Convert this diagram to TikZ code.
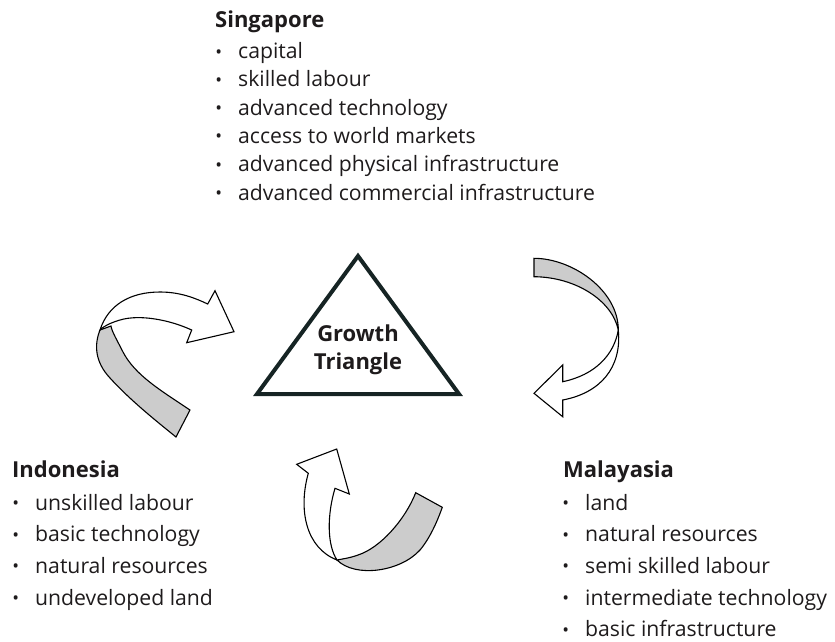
\documentclass[tikz,border=0pt]{standalone}
\usepackage{fontspec}
\setmainfont{Open Sans}
\definecolor{ink}{RGB}{30,27,28}
\definecolor{band}{RGB}{204,204,204}
\definecolor{edge}{RGB}{22,36,36}
% bullet hung to the left of an item
\newcommand{\bul}{\llap{{\fontsize{18}{18}\selectfont\raisebox{0.5pt}{\textbullet}}\hspace{16pt}}}

\begin{document}
\begin{tikzpicture}[x=1pt, y=-1pt,
	head/.style={font=\fontsize{22}{28}\selectfont\bfseries, text=ink, anchor=base west, inner sep=0pt},
	item/.style={font=\fontsize{21.2}{28}\selectfont, text=ink, anchor=base west, inner sep=0pt},
	ribbon/.style={draw=black, line width=1.1pt, line join=miter, fill=white},
	twist/.style={ribbon, fill=band}]
	%%%%% START %%%%%
	\useasboundingbox (0, 0) rectangle (835, 641);
	
	% Singapore
	\node[head] (sg0) at (215, 27.5) {Singapore};
	\node[item] (sg1) at (238, 58.5) {\bul capital};
	\node[item] (sg2) at (238, 86.8) {\bul skilled labour};
	\node[item] (sg3) at (238, 115.1) {\bul advanced technology};
	\node[item] (sg4) at (238, 143.4) {\bul access to world markets};
	\node[item] (sg5) at (238, 171.7) {\bul advanced physical infrastructure};
	\node[item] (sg6) at (238, 200) {\bul advanced commercial infrastructure};
	
	% Indonesia
	\node[head] (id0) at (12, 477) {Indonesia};
	\node[item] (id1) at (35, 510) {\bul unskilled labour};
	\node[item] (id2) at (35, 541.7) {\bul basic technology};
	\node[item] (id3) at (35, 573.3) {\bul natural resources};
	\node[item] (id4) at (35, 605) {\bul undeveloped land};
	
	% Malayasia
	\node[head] (my0) at (563, 477) {Malayasia};
	\node[item] (my1) at (585, 510) {\bul land};
	\node[item] (my2) at (585, 541.7) {\bul natural resources};
	\node[item] (my3) at (585, 573.3) {\bul semi skilled labour};
	\node[item] (my4) at (585, 605) {\bul intermediate technology};
	\node[item] (my5) at (585, 636.7) {\bul basic infrastructure};
	
	% triangle in the middle
	\draw[edge, line width=4pt, line join=miter] (358, 256) -- (459, 394) -- (257, 394) -- cycle;
	\node[head, anchor=center, align=center] (growth) at (358, 350) {Growth\\Triangle};
	
	% left ribbon, Indonesia up to Singapore
	\draw[twist] (100, 330) .. controls (94, 345) and (95, 362) .. (110, 378)
		.. controls (130, 400) and (155, 420) .. (176, 437) -- (190, 410)
		.. controls (160, 390) and (135, 375) .. (123, 352)
		.. controls (117, 340) and (112, 332) .. (111, 326) -- cycle;
	\draw[ribbon] (100, 330) .. controls (108, 305) and (130, 292) .. (160, 292)
		.. controls (180, 292) and (195, 298) .. (207.7, 304) -- (215, 290.7) -- (234, 331.7)
		-- (186.7, 342.7) -- (191.7, 330)
		.. controls (170, 320) and (140, 314) .. (120, 320)
		.. controls (110, 323) and (104, 326) .. (100, 330) -- cycle;
	
	% right ribbon, Singapore down to Malayasia
	\draw[twist] (534, 258.3) .. controls (572, 258.3) and (618.3, 290) .. (618.3, 330)
		.. controls (612, 300) and (575, 277) .. (534, 276.7) -- cycle;
	\draw[ribbon] (618.3, 330) .. controls (622, 368) and (600, 393) .. (562.7, 400)
		-- (562.7, 416.7) -- (534, 393.3) -- (562.7, 365) -- (562.7, 381.7)
		.. controls (595, 375) and (614, 355) .. (618.3, 330) -- cycle;
	
	% bottom ribbon, Malayasia across to Indonesia
	\draw[twist] (337, 560) .. controls (355, 578) and (400, 572) .. (420, 550)
		.. controls (430, 538) and (437, 522) .. (442.3, 507.3) -- (415.7, 492.7)
		.. controls (405, 520) and (380, 548) .. (358, 555)
		.. controls (350, 558) and (342, 559) .. (337, 560) -- cycle;
	\draw[ribbon] (337, 560) .. controls (306, 548) and (298, 510) .. (308.3, 473.3)
		-- (296.7, 464.3) -- (336.7, 449) -- (349.3, 494) -- (335, 488.3)
		.. controls (327, 515) and (327, 545) .. (337, 560) -- cycle;
	
	%%%%% END %%%%%
\end{tikzpicture}
\end{document}
